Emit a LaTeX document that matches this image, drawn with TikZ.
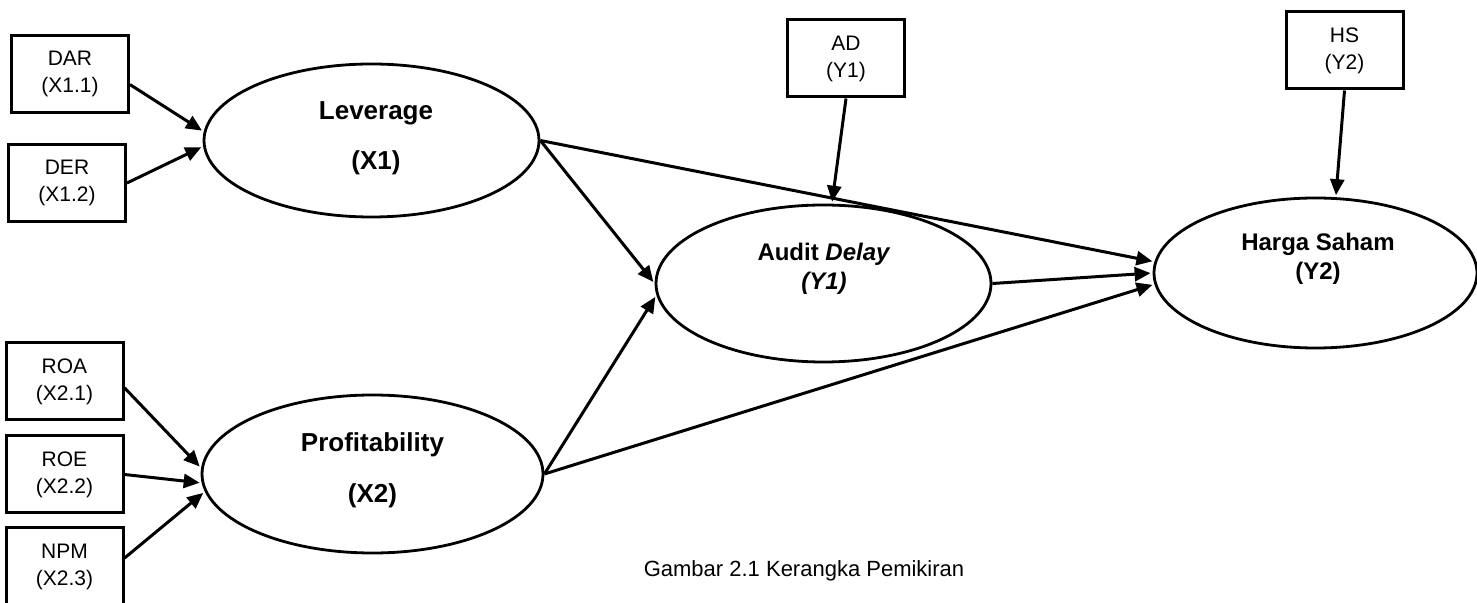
\documentclass[tikz,border=0pt]{standalone}
\usepackage{fontspec}
\setmainfont{Liberation Sans}
\usetikzlibrary{shapes.geometric, arrows.meta}
\tikzset{
	block/.style={rectangle, draw, line width=1.5pt, minimum width=58.5pt,
		minimum height=38.5pt, align=center, inner sep=0pt,
		font=\fontsize{10.5}{13.5}\selectfont},
	latent/.style={ellipse, draw, line width=1.4pt, inner sep=0pt},
	varname/.style={align=center, inner sep=0pt,
		font=\fontsize{12}{14.5}\selectfont\bfseries},
	branch/.style={draw, line width=1.5pt, -{Triangle[length=8pt,width=7pt]},
		shorten >=1pt},
}

\begin{document}
\begin{tikzpicture}[x=0.5pt, y=-0.5pt]
\useasboundingbox (0,0) rectangle (1477,603);

%latent variables
\node [latent, minimum width=167.5pt, minimum height=76.5pt] at (371.5,140.5) (lev) {};
\node [latent, minimum width=170.5pt, minimum height=79pt] at (372.5,474) (prof) {};
\node [latent, minimum width=167.5pt, minimum height=78.5pt] at (823.5,283.5) (aud) {};
\node [latent, minimum width=161.5pt, minimum height=75pt] at (1315.5,273) (hrg) {};

\node [varname, font=\fontsize{13}{25}\selectfont\bfseries] at (376,138.5) (levtxt) {Leverage\\(X1)};
\node [varname, font=\fontsize{13}{25.5}\selectfont\bfseries] at (372.5,470) (proftxt) {Profitability\\(X2)};
\node [varname] at (824,268.5) (audtxt) {Audit \textit{Delay}\\\textit{(Y1)}};
\node [varname] at (1318,259) (hrgtxt) {Harga Saham\\(Y2)};

%indicators
\foreach \x/\y/\name/\lbl/\code in {70/74/dar/DAR/X1.1, 67/183/der/DER/X1.2,
		64.5/381.5/roa/ROA/X2.1, 64.5/474.5/roe/ROE/X2.2, 64.5/566.5/npm/NPM/X2.3}
	\node [block] at (\x,\y) (\name) {\lbl\\(\code)};

\node [block] at (846,58.5) (ad) {AD\\(Y1)};
\node [block] at (1344.5,50.5) (hs) {HS\\(Y2)};

\path[branch] (dar.-10) -- (lev.177);
\path[branch] (der.east) -- (lev.182);
\path[branch] (roa.-6) -- (prof.178);
\path[branch] (roe.east) -- (prof.183);
\path[branch] (npm.8) -- (prof.186);

\path[branch] (lev.east) -- (aud.west);
\path[branch] (lev.east) -- (hrg.176);
\path[branch] (prof.east) -- (aud.184);
\path[branch] (prof.east) -- (hrg.184);
\path[branch] (aud.east) -- (hrg.west);
\path[branch] (ad.south) -- (aud.84);
\path[branch] (hs.south) -- (hrg.75);

\node [font=\fontsize{11}{13}\selectfont] at (804,571) (cap) {Gambar 2.1 Kerangka Pemikiran};

\end{tikzpicture}
\end{document}
